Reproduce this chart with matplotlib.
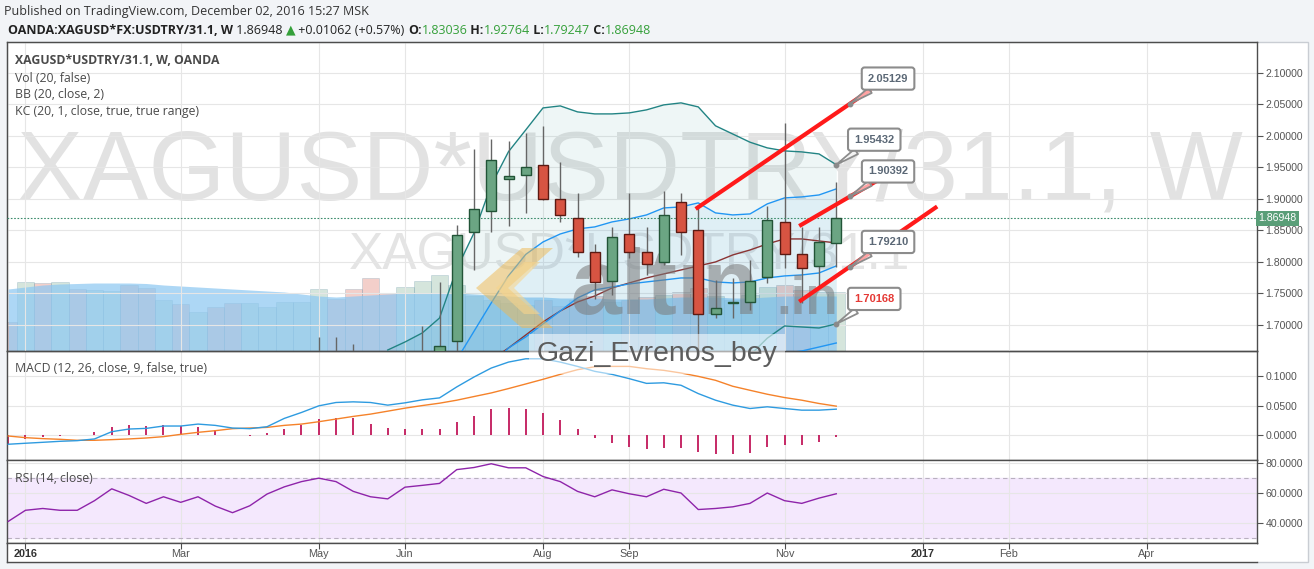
import numpy as np
import pandas as pd
import matplotlib
matplotlib.use('Agg')
import matplotlib.pyplot as plt
import matplotlib.transforms as mtrans
from matplotlib.patches import Rectangle, Polygon
from matplotlib.ticker import FormatStrFormatter

plt.rcParams['font.family'] = ['Liberation Sans', 'DejaVu Sans']

# ---- data (weekly bars, OANDA XAGUSD*USDTRY/31.1) ----
first_week = pd.Timestamp('2016-01-04')          # bar index 0

tick_dates = ['2016-01-04', '2016-03-07', '2016-05-02', '2016-06-06', '2016-08-01',
              '2016-09-05', '2016-11-07', '2017-01-02', '2017-02-06', '2017-04-03']
tick_labels = ['2016', 'Mar', 'May', 'Jun', 'Aug', 'Sep', 'Nov', '2017', 'Feb', 'Apr']

# candles from 2016-05-02
candle_start = '2016-05-02'
opens = [1.620, 1.640, 1.610, 1.585, 1.575, 1.560, 1.630, 1.652, 1.675, 1.847, 1.881,
         1.931, 1.938, 1.954, 1.900, 1.869, 1.815, 1.769, 1.844, 1.815, 1.800, 1.895,
         1.851, 1.717, 1.7345, 1.736, 1.776, 1.864, 1.812, 1.794, 1.83036]
highs = [1.681, 1.681, 1.670, 1.630, 1.640, 1.650, 1.698, 1.768, 1.859, 1.979, 1.995,
         1.992, 2.005, 2.016, 1.959, 1.909, 1.829, 1.856, 1.909, 1.856, 1.912, 1.910,
         1.891, 1.771, 1.774, 1.803, 1.888, 2.020, 1.856, 1.856, 1.92764]
lows = [1.585, 1.595, 1.575, 1.555, 1.555, 1.555, 1.615, 1.640, 1.655, 1.787, 1.848,
        1.857, 1.878, 1.898, 1.864, 1.808, 1.742, 1.748, 1.806, 1.779, 1.795, 1.811,
        1.650, 1.711, 1.711, 1.724, 1.766, 1.790, 1.7345, 1.761, 1.79247]
closes = [1.640, 1.610, 1.585, 1.570, 1.560, 1.630, 1.652, 1.666, 1.842, 1.884, 1.961,
          1.936, 1.950, 1.900, 1.874, 1.815, 1.768, 1.840, 1.815, 1.796, 1.874, 1.848,
          1.717, 1.727, 1.735, 1.770, 1.867, 1.812, 1.790, 1.831, 1.86948]

# indicators from 2015-12-28
ind_start = '2015-12-28'
volume = [29, 69, 68, 69, 62, 61, 60, 66, 63, 51, 47, 39, 44, 48, 48, 44, 49, 49, 62, 52,
          62, 73, 58, 64, 70, 76, 66, 55, 51, 48, 46, 51, 45, 51, 55, 49, 51, 54, 56, 59,
          63, 55, 51, 56, 64, 66, 61, 59, 59]
vol_dir = ['d', 'u', 'd', 'u', 'd', 'u', 'u', 'd', 'd', 'u', 'd', 'u', 'd', 'd', 'u', 'u',
           'u', 'u', 'u', 'd', 'd', 'd', 'd', 'u', 'u', 'u', 'u', 'u', 'u', 'u', 'u', 'd',
           'd', 'd', 'd', 'u', 'd', 'd', 'u', 'd', 'd', 'u', 'u', 'u', 'u', 'd', 'd', 'u', 'u']
vol_ma = [62, 64, 66, 67, 67.5, 68, 68, 68, 67.5, 66, 65, 64, 63, 62, 61, 60, 59, 57, 55,
          54, 55, 56, 57, 58, 58, 58, 58, 57, 56, 55, 54, 54, 53, 53, 53, 52, 52, 52, 53,
          54, 54, 54, 53, 53, 54, 55, 55, 55, 55]
macd = [-0.0157, -0.0140, -0.0124, -0.0107, -0.0096, -0.0067, 0.0056, 0.0101, 0.0112,
        0.0152, 0.0152, 0.0185, 0.0163, 0.0118, 0.0107, 0.0140, 0.0281, 0.0382, 0.0494,
        0.0551, 0.0562, 0.0551, 0.0506, 0.0545, 0.0596, 0.0629, 0.0815, 0.0983, 0.1135,
        0.1236, 0.1292, 0.1292, 0.1236, 0.1163, 0.1079, 0.1028, 0.0955, 0.0875, 0.0885,
        0.0843, 0.0702, 0.0590, 0.0506, 0.0449, 0.0478, 0.0449, 0.0421, 0.0421, 0.0438]
signal = [-0.0017, -0.0045, -0.0062, -0.0073, -0.0090, -0.0090, -0.0079, -0.0067, -0.0051,
          -0.0028, 0.0011, 0.0045, 0.0073, 0.0107, 0.0118, 0.0129, 0.0163, 0.0185, 0.0225,
          0.0270, 0.0315, 0.0354, 0.0404, 0.0455, 0.0499, 0.0539, 0.0590, 0.0652, 0.0713,
          0.0787, 0.0865, 0.0944, 0.1028, 0.1107, 0.1157, 0.1163, 0.1163, 0.1124, 0.1096,
          0.1051, 0.0994, 0.0927, 0.0826, 0.0758, 0.0691, 0.0635, 0.0590, 0.0534, 0.0489]
hist = [-0.0157, -0.0073, -0.0028, -0.0017, -0.0003, 0.0056, 0.0140, 0.0169, 0.0157,
        0.0169, 0.0152, 0.0129, 0.0084, 0.0005, -0.0011, 0.0028, 0.0101, 0.0174, 0.0270,
        0.0281, 0.0281, 0.0185, 0.0124, 0.0107, 0.0101, 0.0101, 0.0225, 0.0320, 0.0433,
        0.0461, 0.0438, 0.0365, 0.0253, 0.0101, -0.0056, -0.0140, -0.0197, -0.0242, -0.0213,
        -0.0213, -0.0281, -0.0315, -0.0326, -0.0298, -0.0197, -0.0169, -0.0169, -0.0112, -0.0039]
rsi = [41.1, 48.5, 49.7, 48.5, 48.5, 54.9, 62.8, 58.4, 53.1, 57.5, 53.8, 57.5, 51.3, 46.9,
       51.5, 59.3, 64.1, 67.6, 69.9, 67.6, 61.1, 57.5, 56.1, 63.9, 65.1, 66.4, 75.6, 77.0,
       79.5, 76.8, 76.8, 71.0, 67.6, 61.1, 57.5, 62.1, 59.5, 57.5, 62.5, 60.0, 49.0, 49.7,
       50.8, 53.1, 60.0, 54.9, 53.1, 56.6, 59.5]

# bands from 2016-05-30
band_start = '2016-05-30'
bb_upper = [1.6603, 1.673, 1.6873, 1.711, 1.789, 1.846, 1.922, 1.975, 2.0095, 2.0444, 2.0476,
            2.0381, 2.0349, 2.0349, 2.0365, 2.0413, 2.0492, 2.0524, 2.046, 2.016, 2.003,
            1.990, 1.981, 1.9762, 1.9746, 1.9714, 1.95432]
bb_basis = [1.555, 1.565, 1.578, 1.593, 1.610, 1.625, 1.6444, 1.6635, 1.6841, 1.7048, 1.7222,
            1.7365, 1.746, 1.7587, 1.7667, 1.7746, 1.781, 1.7873, 1.7937, 1.800, 1.8111,
            1.819, 1.8286, 1.8365, 1.8365, 1.8333, 1.8302]
bb_lower = [1.450, 1.457, 1.469, 1.475, 1.431, 1.404, 1.367, 1.352, 1.359, 1.365, 1.397,
            1.435, 1.457, 1.483, 1.497, 1.508, 1.513, 1.522, 1.541, 1.583, 1.622, 1.652,
            1.679, 1.6984, 1.6968, 1.6952, 1.70168]
kc_upper = [1.550, 1.575, 1.600, 1.625, 1.645, 1.690, 1.735, 1.778, 1.812, 1.8317, 1.8444,
            1.8524, 1.8556, 1.8635, 1.8683, 1.8746, 1.8857, 1.8873, 1.8937, 1.8778, 1.8746,
            1.8762, 1.8921, 1.9016, 1.9032, 1.9063, 1.9159]
kc_basis = [1.500, 1.515, 1.530, 1.550, 1.575, 1.600, 1.635, 1.6635, 1.681, 1.7016, 1.7222,
            1.7429, 1.7556, 1.7603, 1.7651, 1.7683, 1.7714, 1.7746, 1.7746, 1.7683, 1.7667,
            1.7683, 1.7746, 1.7778, 1.7794, 1.7825, 1.7937]
kc_lower = [1.450, 1.455, 1.460, 1.475, 1.505, 1.510, 1.535, 1.549, 1.550, 1.575, 1.600,
            1.620, 1.640, 1.645, 1.648, 1.650, 1.652, 1.654, 1.652, 1.645, 1.645, 1.648,
            1.652, 1.655, 1.6587, 1.665, 1.6714]

# drawn trend lines (bar index, price)
trend_lines = [((38.85, 1.8841), (49.0, 2.0735)),
               ((44.85, 1.857), (49.5, 1.931)),
               ((44.85, 1.737), (52.85, 1.888))]
callout_x = [47.8, 47.0, 47.8, 47.8, 47.0]
callout_price = [2.05129, 1.95432, 1.90392, 1.79210, 1.70168]

last_close = 1.86948


def widx(dates):
    return ((pd.DatetimeIndex(dates) - first_week).days / 7).to_numpy()


def weeks(start, n):
    return widx(pd.date_range(start, periods=n, freq='7D'))


x_c = weeks(candle_start, len(opens))
x_i = weeks(ind_start, len(macd))
x_b = weeks(band_start, len(bb_upper))
tick_pos = widx(tick_dates)

# ---- figure layout (pixel boxes) ----
W, H = 1314, 569
fig = plt.figure(figsize=(W / 100, H / 100), dpi=100, facecolor='#f2f4f7')


def pbox(x0, y0, x1, y1):
    return [x0 / W, 1 - y1 / H, (x1 - x0) / W, (y1 - y0) / H]


fig.patches.append(Rectangle((7 / W, 1 - 562 / H), 1301 / W, 520 / H, transform=fig.transFigure,
                             fc='white', ec='#c9cdd3', lw=1, zorder=-10))

ax = fig.add_axes(pbox(7, 42, 1257, 351))
axv = ax.twinx()
ax.set_zorder(axv.get_zorder() + 1)
ax.patch.set_visible(False)
axm = fig.add_axes(pbox(7, 351, 1257, 460), sharex=ax)
axr = fig.add_axes(pbox(7, 460, 1257, 543), sharex=ax)
axt = fig.add_axes(pbox(7, 543, 1257, 562), sharex=ax)

ax.set_xlim(-1.072, 71.39)
ax.set_ylim(1.6587, 2.149)
axv.set_ylim(0, 309)
axm.set_ylim(-0.0424, 0.1424)
axr.set_ylim(26.7, 82)
axt.set_ylim(0, 1)

for a in (ax, axm, axr, axt):
    for s in a.spines.values():
        s.set_color('#4d4d4d')
        s.set_linewidth(1)
for s in axv.spines.values():
    s.set_visible(False)
axt.spines['right'].set_visible(False)
axv.set_yticks([])
axv.tick_params(right=False, labelright=False)

ax.set_xticks(tick_pos)
for a in (ax, axm, axr):
    a.tick_params(axis='x', bottom=False, labelbottom=False)
    a.yaxis.tick_right()
    a.tick_params(axis='y', length=4, width=0.8, color='#555555', labelsize=7.6,
                  labelcolor='#555555', pad=2)
    a.grid(True, color='#e6e6e6', lw=0.8)
    a.set_axisbelow(True)

ax.set_yticks(np.arange(1.70, 2.1001, 0.05))
ax.yaxis.set_major_formatter(FormatStrFormatter('%.5f'))
axm.set_yticks([0.0, 0.05, 0.10])
axm.yaxis.set_major_formatter(FormatStrFormatter('%.4f'))
axr.set_yticks([40, 60, 80])
axr.yaxis.set_major_formatter(FormatStrFormatter('%.4f'))

axt.set_yticks([])
axt.tick_params(axis='x', direction='in', top=True, bottom=False, labelbottom=False,
                length=4, color='#4d4d4d')
bt = mtrans.blended_transform_factory(axt.transData, axt.transAxes)
for p, lbl in zip(tick_pos, tick_labels):
    bold = lbl.isdigit()
    axt.text(p, 0.42, lbl, transform=bt, ha='center', va='center', fontsize=7.8,
             fontweight='bold' if bold else 'normal', color='#333333' if bold else '#555555')

# ---- watermarks ----
axv.text(0.4984, 0.4887, 'XAGUSD*USDTRY/31.1, W', transform=axv.transAxes, ha='center',
         va='baseline', fontsize=71, color='#e2e2e2', zorder=0)
axv.text(0.4984, 0.2654, 'XAGUSD*USDTRY/31.1', transform=axv.transAxes, ha='center',
         va='baseline', fontsize=37, color='#e4e4e4', zorder=0)

# ---- volume ----
vcol = ['#6ba583' if d == 'u' else '#d75442' for d in vol_dir]
axv.bar(x_i, volume, width=1.0, color=vcol, alpha=0.28, edgecolor='#5f8fa8', lw=0.6, zorder=1)
axv.fill_between(x_i, 0, vol_ma, color='#8ec8f2', alpha=0.72, lw=0, zorder=2)

# ---- bands ----
ax.fill_between(x_b, bb_lower, bb_upper, color='#198787', alpha=0.07, lw=0, zorder=1)
ax.fill_between(x_b, kc_lower, kc_upper, color='#2196f3', alpha=0.07, lw=0, zorder=1)
for ser in (bb_upper, bb_lower):
    ax.plot(x_b, ser, color='#228484', lw=1, zorder=3)
ax.plot(x_b, bb_basis, color='#8a3434', lw=1, zorder=3)
for ser in (kc_upper, kc_basis, kc_lower):
    ax.plot(x_b, ser, color='#2196f3', lw=1, zorder=3)

# ---- altin.in logo watermark ----


def px2ax(x, y):
    return ((x - 7) / 1250, (351 - y) / 309)


chev = [px2ax(*p) for p in [(553, 248), (522, 248), (476, 288), (522, 328), (553, 328), (508, 288)]]
ax.add_patch(Polygon(chev, closed=True, transform=ax.transAxes, fc='#efb84f', alpha=0.5,
                     ec='none', zorder=3.5))
chev2 = [px2ax(*p) for p in [(540, 262), (524, 262), (496, 288), (524, 314), (540, 314), (514, 288)]]
ax.add_patch(Polygon(chev2, closed=True, transform=ax.transAxes, fc='#f7d58c', alpha=0.6,
                     ec='none', zorder=3.6))
ax.text(*px2ax(570, 314), 'altın', transform=ax.transAxes, fontsize=66, fontweight='bold',
        color='#7a7a7a', alpha=0.55, ha='left', va='baseline', zorder=3.5)
ax.text(*px2ax(776, 314), '.in', transform=ax.transAxes, fontsize=38, fontweight='bold',
        color='#7a7a7a', alpha=0.55, ha='left', va='baseline', zorder=3.5)

# ---- candles ----
o = np.array(opens)
c = np.array(closes)
up = c >= o
body = np.where(np.abs(c - o) < 0.0012, 0.0012, c - o)
ax.vlines(x_c, lows, highs, color='#666666', lw=1, zorder=4)
ax.bar(x_c, body, bottom=o, width=0.58, color=np.where(up, '#6ba583', '#d75442'),
       edgecolor=np.where(up, '#225437', '#5b1a13'), lw=1, zorder=5)

ax.axhline(last_close, color='#3c8c6c', lw=0.8, ls=(0, (1.5, 1.5)), zorder=4)
ax.text(1.0012, last_close, '%.5f' % last_close,
        transform=mtrans.blended_transform_factory(ax.transAxes, ax.transData),
        ha='left', va='center', color='white', fontsize=7.6, clip_on=False, zorder=20,
        bbox=dict(boxstyle='square,pad=0.25', fc='#5a9e78', ec='none'))

# ---- trend lines and callouts ----
for (x0, y0), (x1, y1) in trend_lines:
    ax.plot([x0, x1], [y0, y1], color='#ff1a1a', lw=3, solid_capstyle='butt', zorder=6)

for cx, cp in zip(callout_x, callout_price):
    ax.annotate('%.5f' % cp, xy=(cx, cp), xytext=(38, 25), textcoords='offset pixels',
                ha='center', va='center', fontsize=8, fontweight='bold',
                color='#e53935' if cp < 1.71 else '#5b6876', zorder=8, annotation_clip=False,
                bbox=dict(boxstyle='round,pad=0.55,rounding_size=0.25', fc='white',
                          ec='#8c8c8c', lw=1.5),
                arrowprops=dict(arrowstyle='wedge,tail_width=0.55', fc=(1, 1, 1, 0.6),
                                ec='#8c8c8c', lw=1.3, shrinkA=0, shrinkB=0))
    ax.plot(cx, cp, 'o', ms=3.2, color='#8a8a8a', zorder=9)

# ---- MACD ----
axm.vlines(x_i, 0, hist, color='#c2185b', lw=1.3, zorder=2)
axm.plot(x_i, signal, color='#f5822a', lw=1, zorder=3)
axm.plot(x_i, macd, color='#2e9be0', lw=1, zorder=3)

# ---- RSI ----
axr.axhspan(30, 70, color='#f4e8fd', zorder=0)
for lv in (70, 30):
    axr.axhline(lv, color='#b8b0bf', lw=0.8, ls=(0, (4, 3)), zorder=1)
axr.plot(x_i, rsi, color='#8e24aa', lw=1, zorder=3)

# ---- texts ----
r = fig.canvas.get_renderer()


def runs(x, y, parts, size):
    for s, kw in parts:
        t = fig.text(x / W, 1 - y / H, s, ha='left', va='center', fontsize=size,
                     family=['Open Sans', 'DejaVu Sans'], **kw)
        x += t.get_window_extent(renderer=r).width


runs(4, 12, [('Published on TradingView.com, December 02, 2016 15:27 MSK',
              dict(color='#333333'))], 9.0)
green = '#35a03a'
runs(8, 30, [('OANDA:XAGUSD*FX:USDTRY/31.1, W', dict(color='#222222', fontweight='bold')),
             (' 1.86948 ', dict(color='#222222')),
             ('▲', dict(color=green)),
             (' +0.01062 (+0.57%) ', dict(color='#222222')),
             ('O:', dict(color='#222222', fontweight='bold')),
             ('1.83036', dict(color=green)),
             (' H:', dict(color='#222222', fontweight='bold')),
             ('1.92764', dict(color=green)),
             (' L:', dict(color='#222222', fontweight='bold')),
             ('1.79247', dict(color=green)),
             (' C:', dict(color='#222222', fontweight='bold')),
             ('1.86948', dict(color=green))], 9.0)

leg = [('XAGUSD*USDTRY/31.1, W, OANDA', 60, 'bold'), ('Vol (20, false)', 78, 'normal'),
       ('BB (20, close, 2)', 95, 'normal'), ('KC (20, 1, close, true, true range)', 112, 'normal'),
       ('MACD (12, 26, close, 9, false, true)', 368, 'normal'), ('RSI (14, close)', 479, 'normal')]
for s, y, wt in leg:
    fig.text(15 / W, 1 - y / H, s, ha='left', va='center', fontsize=8.8, fontweight=wt,
             color='#4a4a4a', family=['Open Sans', 'DejaVu Sans'], zorder=30)

fig.text(657 / W, 1 - 354 / H, 'Gazi_Evrenos_bey', ha='center', va='center', fontsize=20.5,
         color='#5c5c5c', zorder=30,
         bbox=dict(boxstyle='square,pad=0.25', fc='white', alpha=0.55, ec='none'))

fig.savefig('out.png', dpi=100, facecolor=fig.get_facecolor())
